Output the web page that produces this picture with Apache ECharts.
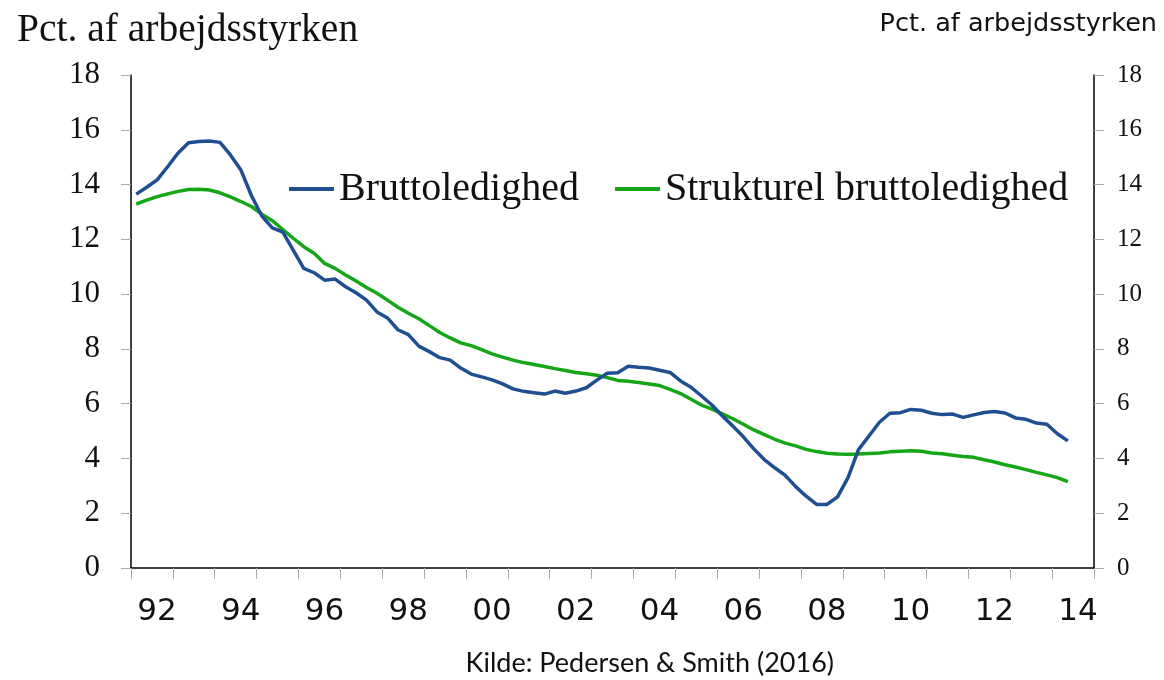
<!DOCTYPE html>
<html><head><meta charset="utf-8">
<script src="https://cdn.jsdelivr.net/npm/echarts@6/dist/echarts.min.js"></script>
<style>html,body{margin:0;padding:0;background:#fff}#c{width:1164px;height:680px}</style>
</head><body><div id="c"></div>
<script>
// Quarterly data, 1992K1 .. 2014K2
const startYear = 1992;
const quarters = [];
for (let y = 1992; y <= 2014; y++) for (let q = 1; q <= 4; q++) quarters.push(y + 'K' + q);

const bruttoledighed = [
13.65,13.9,14.17,14.65,15.15,15.53,15.57,15.59,15.54,15.08,14.53,13.6,12.85,12.42,12.26,11.61,
10.94,10.78,10.51,10.55,10.27,10.05,9.78,9.35,9.13,8.7,8.52,8.1,7.9,7.68,7.59,7.3,
7.08,6.98,6.87,6.72,6.54,6.45,6.4,6.35,6.46,6.38,6.46,6.58,6.86,7.11,7.13,7.37,
7.33,7.3,7.22,7.14,6.83,6.6,6.28,5.95,5.55,5.18,4.79,4.35,3.96,3.66,3.38,2.97,
2.62,2.32,2.32,2.6,3.3,4.32,4.82,5.32,5.65,5.67,5.79,5.76,5.65,5.6,5.62,5.5,
5.59,5.68,5.71,5.66,5.48,5.43,5.29,5.25,4.9,4.64
];
const strukturel = [
13.29,13.43,13.56,13.66,13.75,13.82,13.83,13.8,13.7,13.55,13.38,13.2,12.92,12.68,12.36,12.04,
11.73,11.49,11.12,10.94,10.7,10.48,10.24,10.03,9.78,9.52,9.3,9.1,8.85,8.6,8.4,8.22,
8.12,7.97,7.82,7.7,7.59,7.5,7.43,7.36,7.28,7.21,7.14,7.09,7.04,6.95,6.85,6.82,
6.77,6.72,6.66,6.52,6.37,6.16,5.95,5.8,5.63,5.45,5.25,5.04,4.87,4.7,4.56,4.46,
4.33,4.25,4.19,4.16,4.15,4.16,4.18,4.2,4.24,4.26,4.28,4.26,4.2,4.17,4.12,4.07,
4.04,3.95,3.87,3.77,3.69,3.59,3.49,3.4,3.3,3.15
];
const xLabelYears = [1992,1994,1996,1998,2000,2002,2004,2006,2008,2010,2012,2014];
const xLabels = ['92','94','96','98','00','02','04','06','08','10','12','14'];
const yTicks = [0,2,4,6,8,10,12,14,16,18];

function qx(label){ const y = +label.slice(0,4), q = +label.slice(5); return y + (q - 0.5)/4; }
const blueData = bruttoledighed.map((v,i)=>[qx(quarters[i]), v]);
const greenData = strukturel.map((v,i)=>[qx(quarters[i]), v]);
const labelPos = xLabelYears.map(y=>y+0.62);
const labelMap = {}; labelPos.forEach((p,i)=>labelMap[p.toFixed(2)] = xLabels[i]);

const serif = '"Liberation Serif", "Times New Roman", serif';
const sans = '"DejaVu Sans", Verdana, sans-serif';
const chart = echarts.init(document.getElementById('c'), null, {renderer:'canvas'});
chart.setOption({
  animation:false,
  backgroundColor:'#fff',
  title:[
    {text:'Pct. af arbejdsstyrken', left:12, top:6, textStyle:{fontFamily:serif, fontSize:39.5, fontWeight:'normal', color:'#111'}},
    {text:'Pct. af arbejdsstyrken', right:2, top:6, textStyle:{fontFamily:sans, fontSize:25.5, fontWeight:'normal', color:'#111'}},
    {text:'Kilde: Pedersen & Smith (2016)', right:325, top:645, textStyle:{fontFamily:'Lato, "Open Sans", sans-serif', fontSize:27, fontWeight:'normal', color:'#111'}}
  ],
  legend:{
    left:284, top:162, orient:'horizontal', itemGap:36, itemWidth:45, itemHeight:4,
    icon:'rect',
    textStyle:{fontFamily:serif, fontSize:40, color:'#111', lineHeight:44, padding:[0,0,0,0]},
    data:['Bruttoledighed','Strukturel bruttoledighed']
  },
  grid:{left:131, right:70, top:75, bottom:112, containLabel:false},
  xAxis:{
    type:'value', min:startYear, max:2015, interval:1,
    axisLine:{show:true, lineStyle:{color:'#000', width:1.5}},
    axisTick:{show:true, length:11, lineStyle:{color:'#aaa', width:1}},
    splitLine:{show:false},
    axisLabel:{
      customValues: labelPos, margin:28,
      fontFamily:sans, fontSize:31, color:'#111',
      formatter:(v)=> labelMap[v.toFixed(2)] || ''
    }
  },
  yAxis:[
    {type:'value', min:0, max:18, interval:2, position:'left',
     axisLine:{show:true, lineStyle:{color:'#000', width:1.5}},
     axisTick:{show:true, length:10, lineStyle:{color:'#aaa'}},
     splitLine:{show:false},
     axisLabel:{margin:31, fontFamily:serif, fontSize:31, color:'#111'}},
    {type:'value', min:0, max:18, interval:2, position:'right',
     axisLine:{show:true, lineStyle:{color:'#000', width:1.5}},
     axisTick:{show:true, length:10, lineStyle:{color:'#aaa'}},
     splitLine:{show:false},
     axisLabel:{margin:23, fontFamily:serif, fontSize:25, color:'#111'}}
  ],
  series:[
    {name:'Bruttoledighed', type:'line', data:blueData, showSymbol:false, symbol:'none',
     lineStyle:{color:'#1f4e91', width:3.5}, itemStyle:{color:'#1f4e91'}, z:3},
    {name:'Strukturel bruttoledighed', type:'line', data:greenData, showSymbol:false, symbol:'none',
     lineStyle:{color:'#15a617', width:3.5}, itemStyle:{color:'#15a617'}, z:2}
  ]
});
</script></body></html>
